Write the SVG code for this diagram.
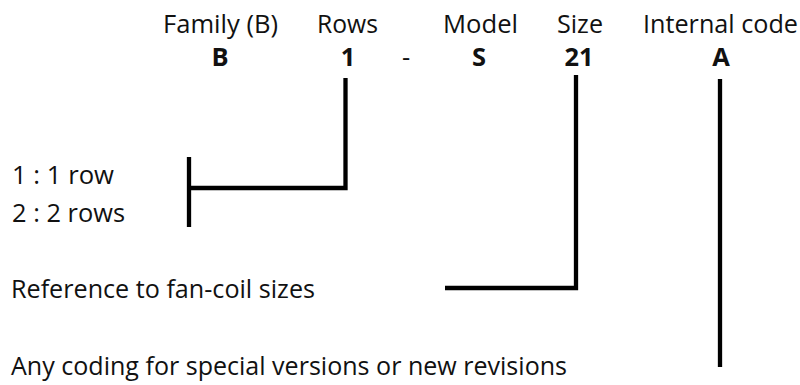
<svg xmlns="http://www.w3.org/2000/svg" width="800" height="385" viewBox="0 0 800 385">
<style>
text{font-family:"Open Sans","Liberation Sans",sans-serif;font-size:25.5px;fill:#111}
.b{font-weight:bold;text-anchor:middle}
.ln{stroke:#000;stroke-width:4.3;fill:none}
</style>
<rect width="800" height="385" fill="#fff"/>
<g id="header">
<text x="163" y="33" textLength="115" lengthAdjust="spacingAndGlyphs">Family (B)</text>
<text x="317" y="33" textLength="61" lengthAdjust="spacingAndGlyphs">Rows</text>
<text x="443" y="33" textLength="75" lengthAdjust="spacingAndGlyphs">Model</text>
<text x="557" y="33" textLength="46" lengthAdjust="spacingAndGlyphs">Size</text>
<text x="643" y="33" textLength="155" lengthAdjust="spacingAndGlyphs">Internal code</text>
</g>
<g id="code">
<text class="b" x="220" y="66">B</text>
<text class="b" x="348" y="66">1</text>
<text class="b" x="406" y="66" style="font-weight:normal">-</text>
<text class="b" x="479" y="66">S</text>
<text class="b" x="579" y="66" textLength="29" lengthAdjust="spacingAndGlyphs">21</text>
<text class="b" x="721" y="66">A</text>
</g>
<g id="rows-desc">
<text x="12" y="184" textLength="102" lengthAdjust="spacingAndGlyphs">1 : 1 row</text>
<text x="12" y="222" textLength="113" lengthAdjust="spacingAndGlyphs">2 : 2 rows</text>
</g>
<g id="size-desc">
<text x="11" y="298" textLength="304" lengthAdjust="spacingAndGlyphs">Reference to fan-coil sizes</text>
</g>
<g id="code-desc">
<text x="11" y="375" textLength="556" lengthAdjust="spacingAndGlyphs">Any coding for special versions or new revisions</text>
</g>
<g id="connectors">
<polyline class="ln" points="345.5,78 345.5,188 189,188"/>
<line class="ln" x1="189" y1="157" x2="189" y2="227"/>
<polyline class="ln" points="576,75 576,288 445,288"/>
<line class="ln" x1="720" y1="79" x2="720" y2="367"/>
</g>
</svg>
